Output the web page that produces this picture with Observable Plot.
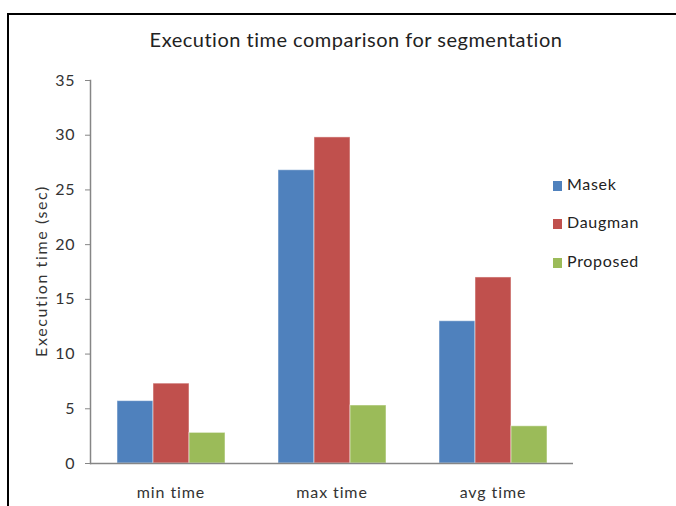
<!DOCTYPE html>
<html>
<head>
<meta charset="utf-8">
<script src="https://cdn.jsdelivr.net/npm/d3@7"></script>
<script src="https://cdn.jsdelivr.net/npm/@observablehq/plot@0.6"></script>
<style>
  html, body { margin: 0; padding: 0; background: #fff; }
  #wrap { position: relative; width: 676px; height: 506px; overflow: hidden; font-family: Lato, "Open Sans", sans-serif; color: #333; }
  #border { position: absolute; left: 7px; top: 13px; width: 800px; height: 600px; border: 2px solid #000; }
  #title { position: absolute; left: 0; width: 712px; top: 27px; text-align: center; font-size: 20px; letter-spacing: 0.5px; color: #222; }
  #ylabel { position: absolute; left: 40px; top: 271px; transform: translate(-50%, -50%) rotate(-90deg); white-space: nowrap; font-size: 16px; letter-spacing: 1.6px; color: #333; }
  #chart { position: absolute; left: 0; top: 0; }
  #chart svg text { letter-spacing: 0.9px; }
  .leg { position: absolute; left: 553px; font-size: 16px; letter-spacing: 0.7px; color: #222; }
  .leg span.sw { position: absolute; left: 0; top: 5px; width: 9px; height: 10px; }
  .leg span.lb { position: absolute; left: 14px; top: -2px; white-space: nowrap; }
</style>
</head>
<body>
<div id="wrap">
  <div id="border"></div>
  <div id="title">Execution time comparison for segmentation</div>
  <div id="chart"></div>
  <div id="ylabel">Execution time (sec)</div>
  <div id="legend"></div>
</div>
<script>
const categories = ["min time", "max time", "avg time"];
const series = ["Masek", "Daugman", "Proposed"];
const masek = [5.7, 26.8, 13.0];
const daugman = [7.3, 29.8, 17.0];
const proposed = [2.8, 5.3, 3.4];
const yTicks = [0, 5, 10, 15, 20, 25, 30, 35];
const colors = ["#4F81BD", "#C0504D", "#9BBB59"];

const values = [masek, daugman, proposed];
const data = [];
categories.forEach((c, i) => {
  series.forEach((s, j) => data.push({category: c, series: s, value: values[j][i]}));
});

const chart = Plot.plot({
  width: 676,
  height: 506,
  marginLeft: 90,
  marginRight: 103,
  marginTop: 80,
  marginBottom: 43,
  style: {fontFamily: "Lato, 'Open Sans', sans-serif", fontSize: "16px", background: "transparent", color: "#333"},
  fx: {domain: categories, padding: 0, axis: null},
  x: {domain: series, axis: null, paddingInner: 0, paddingOuter: 0.736},
  y: {domain: [0, 35], axis: null},
  color: {domain: series, range: colors},
  marks: [
    Plot.barY(data, {fx: "category", x: "series", y: "value", fill: "series", stroke: "#fff", strokeOpacity: 0.5, strokeWidth: 1}),
    Plot.ruleY([0], {stroke: "#868686", strokeWidth: 1.5}),
    Plot.frame({anchor: "left", facetAnchor: "left", stroke: "#868686", strokeWidth: 1.5}),
    Plot.axisY({ticks: yTicks, tickSize: 5, tickPadding: 10, stroke: "#868686", fill: "#333", label: null}),
    Plot.axisFx({anchor: "bottom", tickSize: 0, tickPadding: 23, fill: "#333", label: null})
  ]
});
document.getElementById("chart").appendChild(chart);

const legend = document.getElementById("legend");
const legTops = [176, 214, 253];
series.forEach((s, i) => {
  const d = document.createElement("div");
  d.className = "leg";
  d.style.top = legTops[i] + "px";
  d.innerHTML = `<span class="sw" style="background:${colors[i]}"></span><span class="lb">${s}</span>`;
  legend.appendChild(d);
});
</script>
</body>
</html>
